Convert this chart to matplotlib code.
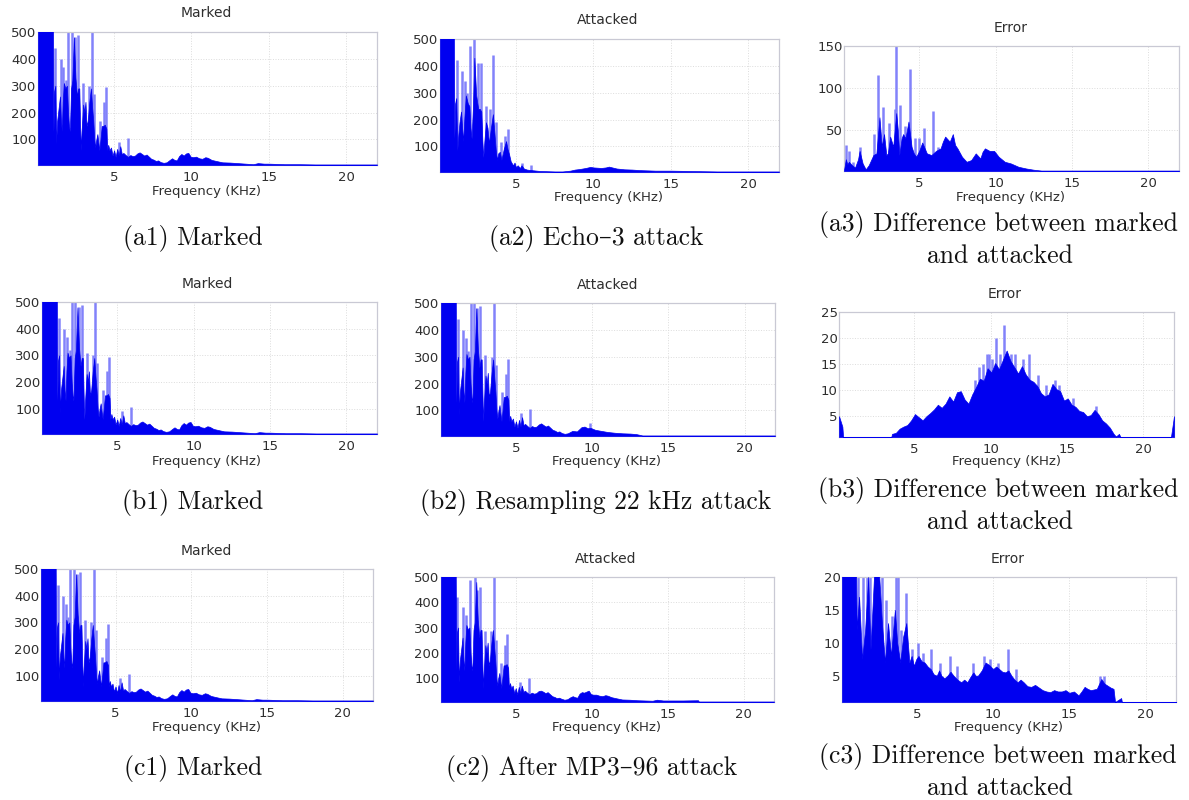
import numpy as np
import matplotlib
matplotlib.use("Agg")
import matplotlib.pyplot as plt

# Constants
W, H = 1189, 800
BLUE = "#0000f0"
LIGHT = "#8282fa"
SANS = "#2e2e2e"

# Spectrum data: solid body and lighter spikes
# Below 5 kHz the marked, resampled and MP3 spectra are nearly the same
low_f = [0.08, 1.05, 1.08, 1.13, 1.2, 1.25, 1.32, 1.42, 1.5, 1.56, 1.62, 1.68, 1.75, 1.85, 1.95, 2.02, 2.08, 2.14, 2.22, 2.3,
         2.4, 2.5, 2.6, 2.68, 2.75, 2.8, 2.85, 2.9, 3.0, 3.08, 3.15, 3.22, 3.3, 3.4, 3.5, 3.58, 3.65, 3.72, 3.78, 3.85,
         3.92, 3.98, 4.05, 4.12, 4.2, 4.3, 4.4, 4.5, 4.55, 4.62, 4.7]
low_v = [520, 520, 130, 280, 300, 85, 170, 220, 260, 170, 130, 240, 310, 290, 300, 200, 150, 130, 290, 320,
         480, 330, 260, 290, 290, 160, 60, 130, 230, 200, 240, 150, 170, 240, 290, 220, 170, 100, 70, 100,
         120, 90, 60, 100, 150, 150, 155, 140, 60, 80, 60]

marked_tail_f = [4.8, 4.9, 5.0, 5.1, 5.2, 5.3, 5.4, 5.5, 5.6, 5.75, 5.9, 6.05, 6.2, 6.35, 6.5, 6.65, 6.8, 6.95, 7.1, 7.25,
                 7.4, 7.55, 7.7, 7.85, 8.0, 8.2, 8.4, 8.6, 8.75, 8.9, 9.05, 9.2, 9.35, 9.5, 9.65, 9.8, 9.95, 10.1, 10.3, 10.5,
                 10.7, 10.9, 11.05, 11.3, 11.6, 12.0, 12.5, 13.0, 13.5, 14.0, 14.3, 14.7, 15.0, 16.0, 17.0, 18.0, 22.0]
marked_tail_v = [70, 40, 60, 35, 65, 40, 75, 45, 50, 42, 35, 42, 38, 40, 48, 52, 46, 40, 44, 36,
                 28, 25, 20, 22, 16, 13, 15, 24, 30, 24, 22, 38, 46, 40, 48, 50, 36, 34, 36, 30,
                 28, 34, 32, 24, 20, 15, 14, 12, 10, 8, 12, 10, 10, 8, 8, 7, 7]
marked_sf = [1.2, 1.55, 1.7, 1.88, 2.02, 2.27, 2.47, 2.67, 3.0, 3.4, 3.58, 3.7, 4.1, 4.35, 4.48, 5.3, 5.9]
marked_sv = [440, 400, 370, 320, 520, 520, 480, 490, 310, 300, 520, 270, 170, 240, 295, 90, 105]

echo_f = [0.08, 0.98, 1.01, 1.06, 1.13, 1.2, 1.26, 1.34, 1.44, 1.52, 1.58, 1.66, 1.75, 1.88, 1.98, 2.05, 2.12, 2.22, 2.3, 2.42,
          2.55, 2.65, 2.75, 2.82, 2.88, 2.95, 3.05, 3.15, 3.25, 3.35, 3.5, 3.6, 3.68, 3.76, 3.85, 3.95, 4.05, 4.2, 4.35, 4.45, 4.55,
          4.65, 4.8, 4.9, 5.0, 5.1, 5.25, 5.35, 5.5, 5.7, 6.0, 6.5, 7.0, 7.5, 8.0, 8.5, 8.8, 9.1, 9.5, 9.8,
          10.0, 10.5, 10.8, 11.0, 11.5, 12.0, 12.5, 13.0, 14.0, 15.0, 16.0, 17.0, 18.0, 22.0]
echo_v = [520, 520, 130, 260, 280, 85, 140, 190, 230, 160, 120, 210, 290, 260, 250, 170, 130, 260, 430, 290,
          240, 240, 230, 120, 60, 120, 190, 170, 110, 160, 220, 150, 90, 50, 75, 80, 50, 90, 120, 90, 70,
          45, 30, 40, 22, 30, 20, 30, 18, 14, 12, 9, 8, 7, 7, 10, 14, 16, 20, 24,
          22, 20, 22, 25, 18, 15, 14, 12, 10, 10, 9, 8, 7, 7]
echo_sf = [1.15, 1.5, 1.7, 1.85, 2.0, 2.3, 2.55, 2.7, 3.05, 3.3, 3.5, 3.7, 4.05, 4.3, 4.45, 5.4, 5.95]
echo_sv = [420, 380, 345, 300, 475, 520, 410, 410, 250, 240, 440, 190, 115, 140, 165, 38, 30]

resample_tail_f = [4.8, 4.9, 5.0, 5.1, 5.2, 5.3, 5.4, 5.5, 5.6, 5.75, 5.9, 6.05, 6.2, 6.35, 6.5, 6.65, 6.8, 6.95, 7.1, 7.25,
                   7.4, 7.55, 7.7, 7.85, 8.0, 8.2, 8.4, 8.7, 9.0, 9.3, 9.5, 9.7, 9.9, 10.2, 10.6, 11.0, 11.5, 12.0, 12.5, 12.9,
                   13.3, 14.0, 22.0]
resample_tail_v = [70, 40, 60, 35, 65, 40, 75, 45, 50, 42, 35, 42, 38, 40, 48, 52, 46, 40, 44, 36,
                   28, 25, 20, 22, 16, 13, 15, 24, 22, 38, 40, 34, 35, 28, 24, 20, 17, 15, 14, 12,
                   7, 7, 7]
resample_sf = [1.2, 1.55, 1.7, 1.88, 2.02, 2.27, 2.47, 2.67, 3.0, 3.4, 3.58, 3.7, 4.1, 4.35, 4.48, 5.3, 5.9, 9.85]
resample_sv = [440, 400, 370, 320, 520, 520, 480, 490, 305, 300, 520, 270, 170, 235, 290, 90, 105, 55]

mp3_tail_f = [4.8, 4.9, 5.0, 5.1, 5.2, 5.3, 5.4, 5.5, 5.6, 5.75, 5.9, 6.05, 6.2, 6.35, 6.5, 6.65, 6.8, 6.95, 7.1, 7.25,
              7.4, 7.55, 7.7, 7.85, 8.0, 8.2, 8.4, 8.6, 8.75, 8.9, 9.05, 9.2, 9.35, 9.5, 9.65, 9.8, 9.95, 10.1, 10.3, 10.5,
              10.7, 10.9, 11.05, 11.3, 11.6, 12.0, 12.5, 13.0, 13.5, 14.0, 14.3, 14.7, 15.0, 16.0, 17.0, 17.05, 22.0]
mp3_tail_v = [70, 40, 60, 35, 65, 40, 70, 45, 50, 42, 35, 42, 38, 40, 48, 50, 46, 40, 44, 36,
              28, 25, 20, 22, 18, 14, 16, 24, 28, 24, 22, 38, 44, 42, 46, 50, 36, 34, 34, 30,
              28, 32, 30, 24, 20, 15, 14, 12, 11, 10, 14, 11, 11, 11, 12, 7, 7]
mp3_sf = [1.15, 1.5, 1.7, 1.85, 2.0, 2.3, 2.47, 2.67, 3.0, 3.35, 3.56, 3.7, 4.05, 4.3, 4.43, 5.3, 5.9]
mp3_sv = [420, 380, 350, 300, 490, 520, 450, 460, 285, 285, 520, 250, 160, 230, 275, 85, 100]

err_a_f = [0.08, 0.2, 0.3, 0.4, 0.6, 0.8, 1.0, 1.1, 1.3, 1.5, 1.7, 1.85, 2.0, 2.2, 2.4, 2.55, 2.7, 2.85, 2.95, 3.1,
           3.2, 3.3, 3.5, 3.6, 3.7, 3.85, 3.95, 4.1, 4.3, 4.5, 4.65, 4.8, 5.0, 5.2, 5.5, 5.8, 6.1, 6.4, 6.55, 6.7,
           7.0, 7.2, 7.35, 7.5, 7.8, 8.1, 8.4, 8.7, 9.0, 9.15, 9.3, 9.6, 9.9, 10.2, 10.6, 11.0, 11.5, 12.0, 12.5, 13.0, 22.0]
err_a_v = [2, 15, 9, 12, 8, 5, 15, 25, 10, 3, 8, 14, 20, 22, 65, 30, 45, 20, 22, 42,
           36, 30, 70, 50, 20, 40, 45, 40, 60, 30, 22, 18, 25, 35, 22, 20, 25, 28, 36, 42,
           36, 45, 32, 28, 18, 12, 14, 22, 16, 24, 28, 25, 25, 18, 12, 10, 6, 4, 2.5, 1.5, 1.5]
err_a_sf = [0.2, 0.4, 0.7, 1.1, 2.05, 2.33, 2.64, 3.05, 3.4, 3.5, 3.75, 4.1, 4.4, 4.7, 5.0, 5.3, 5.9, 6.2]
err_a_sv = [32, 25, 12, 30, 45, 115, 77, 58, 75, 150, 80, 55, 122, 40, 40, 52, 73, 30]

err_b_f = [0.08, 0.3, 0.35, 3.5, 3.55, 3.8, 4.05, 4.3, 4.55, 4.8, 5.05, 5.3, 5.55, 5.8, 6.05, 6.3, 6.55, 6.8, 7.05, 7.3,
           7.55, 7.8, 8.05, 8.3, 8.55, 8.8, 9.05, 9.3, 9.55, 9.8, 10.05, 10.3, 10.55, 10.8, 11.05, 11.3, 11.55, 11.8, 12.05, 12.3,
           12.55, 12.8, 13.05, 13.3, 13.55, 13.8, 14.05, 14.3, 14.55, 14.8, 15.05, 15.3, 15.55, 15.8, 16.05, 16.3, 16.55, 16.8, 17.05, 17.3,
           17.55, 17.8, 18.05, 18.2, 18.4, 18.5, 21.8, 21.9, 22.0]
err_b_v = [5, 3, 1, 1, 1.6, 1.8, 2.6, 3, 3.3, 4.2, 5.4, 4.8, 4.2, 5, 5.6, 6.3, 7.2, 6.6, 7.4, 8.8,
           7.8, 9.6, 9.8, 8.2, 7.4, 9.2, 10.6, 12.2, 11.8, 14.2, 13.4, 15.2, 14, 15.8, 17.6, 15.6, 14.4, 13.2, 14.6, 13,
           12, 11.6, 10.8, 9.4, 8.8, 9.2, 11.2, 10.2, 9.8, 8, 8.4, 7.2, 6.8, 6, 5.8, 5, 5.2, 6.2, 5.4, 4.2,
           3.6, 2.8, 1.6, 1.1, 1.6, 1, 1, 3, 5]
err_b_sf = [9.0, 9.25, 9.5, 9.75, 9.9, 10.1, 10.35, 10.6, 10.9, 11.35, 11.6, 12.1, 12.5, 13.1, 13.6, 14.2, 14.5, 15.4, 16.9]
err_b_sv = [12, 14.5, 15, 17, 17, 16, 20, 17, 22.5, 17, 17, 16, 17, 13, 11, 12, 11, 8.5, 7]

err_c_f = [0.08, 1.0, 1.05, 1.2, 1.4, 1.6, 1.8, 1.95, 2.2, 2.5, 2.7, 2.9, 3.1, 3.3, 3.55, 3.7, 3.9, 4.1, 4.3, 4.5,
           4.65, 4.8, 4.95, 5.1, 5.3, 5.5, 5.7, 5.9, 6.1, 6.3, 6.45, 6.6, 6.8, 7.0, 7.2, 7.4, 7.65, 7.9, 8.1, 8.3,
           8.5, 8.7, 8.85, 9.0, 9.25, 9.5, 9.75, 10.0, 10.2, 10.4, 10.6, 10.8, 11.0, 11.2, 11.4, 11.6, 11.8, 12.0, 12.25, 12.5,
           12.75, 13.0, 13.25, 13.5, 13.75, 14.0, 14.25, 14.5, 14.75, 15.0, 15.3, 15.6, 15.8, 16.0, 16.2, 16.4, 16.6, 16.8, 17.1, 17.3,
           17.5, 17.7, 17.9, 18.0, 18.4, 18.45, 22.0]
err_c_v = [21, 21, 12, 17, 7.5, 12, 20, 9, 21, 21, 13, 7, 13, 8, 15, 10, 7, 11, 13, 7,
           8, 6.5, 7.5, 8, 7.2, 7, 6.4, 6, 5.2, 5, 5.8, 5, 4.6, 5, 5.6, 5, 4.4, 4, 4.4, 4,
           4.8, 5.5, 5, 5, 5.8, 7, 6.6, 6, 6.4, 6, 5.6, 5.5, 5.8, 5, 4.4, 4, 4.4, 4, 3.4, 3.3,
           3.6, 3.2, 2.8, 2.6, 2.5, 2.8, 2.6, 2.6, 2.8, 2.4, 2.6, 2, 2.6, 3.3, 3, 2.8, 2.9, 3, 4.5, 3.8,
           3.5, 3.2, 3, 1, 1.6, 1, 1]
err_c_sf = [1.15, 1.45, 1.7, 1.9, 2.25, 2.7, 3.0, 3.35, 3.6, 3.75, 3.95, 4.3, 4.7, 5.1, 5.4, 5.95, 6.5, 7.2, 7.6, 8.7, 9.4, 9.8, 10.3, 11.0, 11.5, 17.0, 17.3]
err_c_sv = [21, 21, 21, 21, 21, 21, 16.5, 14, 21, 21, 12, 17.5, 9, 10, 8.5, 9, 7, 8, 6.5, 7, 8, 7.5, 7, 9, 6, 5, 5]

x_ticks = [5, 10, 15, 20]
y_ticks_spec = [100, 200, 300, 400, 500]
y_ticks_a3 = [50, 100, 150]
y_ticks_b3 = [5, 10, 15, 20, 25]
y_ticks_c3 = [5, 10, 15, 20]

marked_f = low_f + marked_tail_f
marked_v = low_v + marked_tail_v
resample_f = low_f + resample_tail_f
resample_v = low_v + resample_tail_v
mp3_f = low_f + mp3_tail_f
mp3_v = low_v + mp3_tail_v

# One row per panel: axes box in pixels (left, right, top, bottom), title centre, xlabel centre
panels = [
    ((38, 377, 32, 165), (206, 13), (206, 192), "Marked", marked_f, marked_v, marked_sf, marked_sv, (5, 500), y_ticks_spec),
    ((440, 779, 39, 172), (608, 20), (608, 197), "Attacked", echo_f, echo_v, echo_sf, echo_sv, (5, 500), y_ticks_spec),
    ((844, 1179, 46, 171), (1011, 28), (1010, 197), "Error", err_a_f, err_a_v, err_a_sf, err_a_sv, (1, 150), y_ticks_a3),
    ((42, 377, 302, 434), (207, 284), (207, 461), "Marked", marked_f, marked_v, marked_sf, marked_sv, (5, 500), y_ticks_spec),
    ((441, 775, 303, 436), (608, 285), (607, 462), "Attacked", resample_f, resample_v, resample_sf, resample_sv, (5, 500), y_ticks_spec),
    ((839, 1174, 312, 437), (1005, 294), (1006, 462), "Error", err_b_f, err_b_v, err_b_sf, err_b_sv, (1, 25), y_ticks_b3),
    ((41, 373, 569, 701), (206, 551), (206, 728), "Marked", marked_f, marked_v, marked_sf, marked_sv, (5, 500), y_ticks_spec),
    ((441, 774, 577, 702), (606, 559), (607, 728), "Attacked", mp3_f, mp3_v, mp3_sf, mp3_sv, (5, 500), y_ticks_spec),
    ((842, 1176, 577, 702), (1008, 559), (1008, 728), "Error", err_c_f, err_c_v, err_c_sf, err_c_sv, (1, 20), y_ticks_c3),
]

# Captions under the panels: centre x, centre y, text
captions = [
    (193, 238, "(a1) Marked"),
    (596, 238, "(a2) Echo–3 attack"),
    (998, 225, "(a3) Difference between marked"),
    (1000, 256, "and attacked"),
    (193, 502, "(b1) Marked"),
    (596, 502, "(b2) Resampling 22 kHz attack"),
    (998, 490, "(b3) Difference between marked"),
    (1000, 522, "and attacked"),
    (193, 769, "(c1) Marked"),
    (592, 769, "(c2) After MP3–96 attack"),
    (998, 756, "(c3) Difference between marked"),
    (1000, 788, "and attacked"),
]

fig = plt.figure(figsize=(W / 100, H / 100), dpi=100)


def px_text(x, y, s, **kw):
    fig.text(x / W, 1 - y / H, s, ha="center", va="center", **kw)


for box, title_xy, label_xy, title, f, v, sf, sv, ylim, yt in panels:
    left, right, top, bottom = box
    ax = fig.add_axes([left / W, 1 - bottom / H, (right - left) / W, (bottom - top) / H])
    ax.vlines(sf, ylim[0], sv, color=LIGHT, lw=1.8, zorder=2)
    ax.fill_between(f, ylim[0], v, color=BLUE, lw=0.5, zorder=3)
    ax.set_xlim(0.08, 22)
    ax.set_ylim(*ylim)
    ax.set_xticks(x_ticks)
    ax.set_yticks(yt)
    ax.tick_params(length=0, labelsize=9.5, labelcolor=SANS, pad=4)
    ax.tick_params(axis="y", pad=1)
    ax.grid(True, color="#dcdcdc", lw=0.7, ls=":")
    ax.set_axisbelow(True)
    for s in ax.spines.values():
        s.set_color("#c9c9d4")
        s.set_linewidth(0.9)
    px_text(title_xy[0], title_xy[1], title, fontsize=10, color=SANS)
    px_text(label_xy[0], label_xy[1], "Frequency (KHz)", fontsize=9.5, color=SANS)

for x, y, s in captions:
    px_text(x, y, s, fontsize=18.5, color="#111111", family=["cmr10", "DejaVu Serif"])

fig.savefig("out.png", dpi=100, facecolor="white")
